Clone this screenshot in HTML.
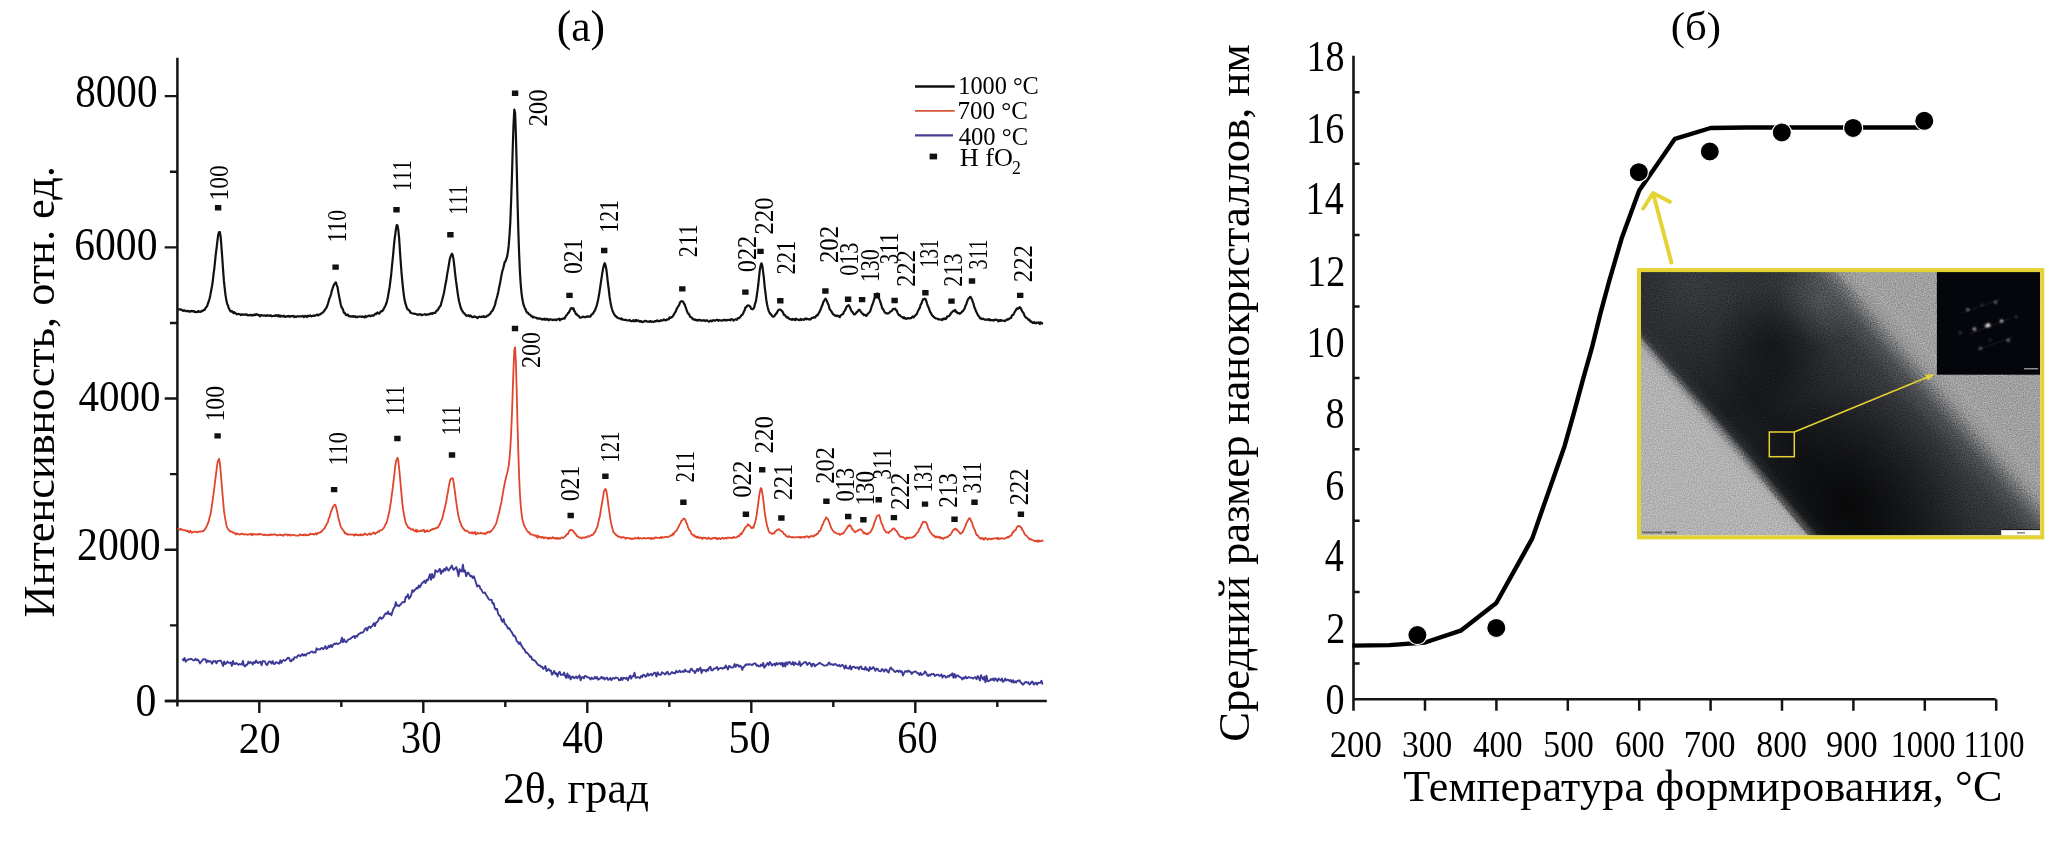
<!DOCTYPE html><html><head><meta charset="utf-8"><style>html,body{margin:0;padding:0;background:#fff;overflow:hidden;}svg{display:block;filter:blur(0.4px);}text{font-family:"Liberation Serif", serif;}</style></head><body>
<svg width="2067" height="845" viewBox="0 0 2067 845">
<rect width="2067" height="845" fill="#fff"/>
<path d="M177.4 57.8V706.5M165 701H1046.8" stroke="#151515" stroke-width="2.5" fill="none"/>
<path d="M164.7 701H177.4M164.7 549.78H177.4M164.7 398.56H177.4M164.7 247.34H177.4M164.7 96.12H177.4M169.9 625.39H177.4M169.9 474.17H177.4M169.9 322.95H177.4M169.9 171.73H177.4M259.3 701V713M423.3 701V713M587.3 701V713M751.3 701V713M915.3 701V713M341.3 701V707M505.3 701V707M669.3 701V707M833.3 701V707M997.3 701V707" stroke="#151515" stroke-width="2.4" fill="none"/>
<text transform="matrix(0.902,0,0,1,75.13,107.25)" font-size="45.64" textLength="91.29" fill="#000" >8000</text>
<text transform="matrix(0.9152,0,0,1,74.21,260.36)" font-size="45.49" textLength="90.99" fill="#000" >6000</text>
<text transform="matrix(0.9049,0,0,1,78.4,411.16)" font-size="45.35" textLength="90.69" fill="#000" >4000</text>
<text transform="matrix(0.9168,0,0,1,77.07,560.36)" font-size="45.49" textLength="90.99" fill="#000" >2000</text>
<text transform="matrix(0.915,0,0,1,135.61,716.25)" font-size="45.64" textLength="22.82" fill="#000" >0</text>
<text transform="matrix(0.9249,0,0,1,238.86,753.46)" font-size="45.35" textLength="45.35" fill="#000" >20</text>
<text transform="matrix(0.8912,0,0,1,400.85,753.45)" font-size="45.79" textLength="45.79" fill="#000" >30</text>
<text transform="matrix(0.9038,0,0,1,562.19,753.45)" font-size="45.79" textLength="45.79" fill="#000" >40</text>
<text transform="matrix(0.9296,0,0,1,728.45,753.46)" font-size="45.35" textLength="45.35" fill="#000" >50</text>
<text transform="matrix(0.8571,0,0,1,897.37,753.44)" font-size="46.98" textLength="46.98" fill="#000" >60</text>
<text transform="matrix(0.9832,0,0,1,502.88,803.1)" font-size="44.5" textLength="148.71" fill="#000">2θ, град</text>
<text transform="matrix(0.9918,0,0,1,556.68,41.3)" font-size="44" textLength="48.83" fill="#000">(a)</text>
<text transform="matrix(0,-1.0084,1,0,53.6,617.38)" font-size="44" textLength="447.54" fill="#000">Интенсивность, отн. ед.</text>
<path d="M177.5 309.2L178.3 309.5L179.1 309.4L179.9 309.3L180.7 309.7L181.5 309.6L182.3 310.2L183.1 311.0L183.9 310.3L184.7 310.4L185.5 311.1L186.3 311.1L187.1 311.2L187.9 310.8L188.7 311.4L189.5 311.8L190.3 311.0L191.1 311.5L191.9 310.9L192.7 311.3L193.5 311.1L194.3 311.9L195.1 311.5L195.9 312.2L196.7 312.2L197.5 312.0L198.3 310.9L199.1 311.7L199.9 311.9L200.7 311.8L201.5 310.9L202.3 311.1L203.1 310.5L203.9 309.9L204.7 309.9L205.5 308.1L206.3 307.2L207.1 306.1L207.9 303.6L208.7 301.5L209.5 298.8L210.3 295.4L211.1 290.8L211.9 286.7L212.7 281.8L213.5 274.3L214.3 268.6L215.1 261.0L215.9 253.2L216.7 247.2L217.5 240.2L218.3 234.3L219.1 232.0L219.9 232.1L220.7 237.2L221.5 247.3L222.3 258.5L223.1 270.2L223.9 280.7L224.7 288.1L225.5 295.1L226.3 299.8L227.1 303.7L227.9 305.7L228.7 307.9L229.5 309.4L230.3 310.9L231.1 311.7L231.9 311.2L232.7 311.9L233.5 313.0L234.3 312.1L235.1 313.1L235.9 313.5L236.7 314.3L237.5 314.2L238.3 313.9L239.1 314.0L239.9 314.2L240.7 315.1L241.5 314.3L242.3 314.4L243.1 314.8L243.9 314.6L244.7 314.7L245.5 314.3L246.3 314.8L247.1 314.7L247.9 315.4L248.7 315.2L249.5 314.9L250.3 315.3L251.1 314.8L251.9 315.5L252.7 315.0L253.5 315.3L254.3 314.4L255.1 315.2L255.9 314.3L256.7 314.2L257.5 315.0L258.3 314.8L259.1 315.3L259.9 316.3L260.7 315.0L261.5 315.1L262.3 315.5L263.1 315.7L263.9 315.4L264.7 315.4L265.5 315.9L266.3 315.8L267.1 315.2L267.9 315.6L268.7 315.7L269.5 315.3L270.3 315.9L271.1 315.4L271.9 316.3L272.7 316.0L273.5 315.9L274.3 315.7L275.1 315.9L275.9 315.1L276.7 315.5L277.5 316.2L278.3 315.1L279.1 316.5L279.9 315.3L280.7 316.5L281.5 315.8L282.3 316.5L283.1 316.3L283.9 315.6L284.7 316.8L285.5 316.9L286.3 316.3L287.1 316.2L287.9 316.3L288.7 315.9L289.5 316.9L290.3 316.2L291.1 316.4L291.9 316.1L292.7 316.2L293.5 315.9L294.3 317.0L295.1 316.4L295.9 316.9L296.7 316.5L297.5 316.2L298.3 316.4L299.1 316.2L299.9 316.5L300.7 316.3L301.5 316.4L302.3 315.9L303.1 316.1L303.9 317.2L304.7 316.1L305.5 315.9L306.3 316.5L307.1 317.0L307.9 315.6L308.7 316.2L309.5 315.9L310.3 315.4L311.1 316.4L311.9 316.0L312.7 316.0L313.5 315.5L314.3 316.0L315.1 315.4L315.9 315.4L316.7 314.9L317.5 314.6L318.3 315.5L319.1 314.5L319.9 314.5L320.7 314.0L321.5 313.3L322.3 312.7L323.1 312.5L323.9 311.2L324.7 310.2L325.5 309.0L326.3 308.0L327.1 306.0L327.9 303.8L328.7 301.1L329.5 298.3L330.3 296.6L331.1 293.8L331.9 290.5L332.7 288.1L333.5 285.8L334.3 284.1L335.1 283.1L335.9 282.4L336.7 285.1L337.5 287.0L338.3 292.0L339.1 296.1L339.9 300.3L340.7 304.3L341.5 307.1L342.3 308.3L343.1 310.0L343.9 312.6L344.7 312.9L345.5 314.2L346.3 315.2L347.1 314.6L347.9 314.7L348.7 316.1L349.5 316.2L350.3 316.3L351.1 316.6L351.9 316.3L352.7 316.1L353.5 316.8L354.3 316.4L355.1 316.2L355.9 317.2L356.7 316.9L357.5 317.1L358.3 316.5L359.1 316.6L359.9 316.5L360.7 316.5L361.5 316.9L362.3 316.4L363.1 316.9L363.9 316.8L364.7 317.5L365.5 315.9L366.3 316.9L367.1 316.3L367.9 316.3L368.7 315.5L369.5 315.8L370.3 316.2L371.1 315.7L371.9 315.6L372.7 315.3L373.5 315.7L374.3 315.0L375.1 313.8L375.9 314.2L376.7 313.3L377.5 312.4L378.3 313.3L379.1 313.7L379.9 312.7L380.7 311.6L381.5 311.0L382.3 311.2L383.1 309.8L383.9 308.6L384.7 307.1L385.5 305.4L386.3 303.5L387.1 300.6L387.9 297.0L388.7 292.2L389.5 287.9L390.3 281.5L391.1 275.5L391.9 266.9L392.7 259.2L393.5 250.7L394.3 241.7L395.1 235.5L395.9 229.4L396.7 225.0L397.5 225.4L398.3 230.0L399.1 237.8L399.9 250.2L400.7 261.6L401.5 272.3L402.3 281.1L403.1 289.1L403.9 295.3L404.7 300.6L405.5 303.7L406.3 306.1L407.1 308.7L407.9 309.2L408.7 310.3L409.5 310.5L410.3 312.6L411.1 312.8L411.9 313.2L412.7 313.5L413.5 313.5L414.3 313.8L415.1 313.8L415.9 314.0L416.7 314.2L417.5 315.0L418.3 314.6L419.1 314.4L419.9 314.2L420.7 314.3L421.5 315.3L422.3 314.9L423.1 314.7L423.9 314.5L424.7 314.2L425.5 314.6L426.3 315.0L427.1 314.4L427.9 314.3L428.7 314.3L429.5 314.3L430.3 313.4L431.1 313.8L431.9 313.3L432.7 313.8L433.5 312.8L434.3 313.0L435.1 313.0L435.9 311.6L436.7 310.8L437.5 310.3L438.3 309.2L439.1 307.5L439.9 306.6L440.7 305.5L441.5 302.2L442.3 299.6L443.1 296.2L443.9 293.3L444.7 288.6L445.5 284.3L446.3 280.6L447.1 274.6L447.9 270.4L448.7 265.7L449.5 260.6L450.3 257.2L451.1 255.5L451.9 253.7L452.7 255.1L453.5 259.1L454.3 265.8L455.1 273.4L455.9 280.2L456.7 285.9L457.5 291.8L458.3 297.0L459.1 301.5L459.9 304.6L460.7 307.5L461.5 309.6L462.3 310.9L463.1 312.2L463.9 313.2L464.7 313.8L465.5 314.7L466.3 315.8L467.1 315.6L467.9 315.7L468.7 315.2L469.5 316.3L470.3 315.5L471.1 315.9L471.9 317.1L472.7 317.1L473.5 316.9L474.3 316.3L475.1 316.9L475.9 316.8L476.7 317.4L477.5 318.2L478.3 317.3L479.1 316.8L479.9 316.6L480.7 317.1L481.5 317.0L482.3 316.5L483.1 316.9L483.9 316.2L484.7 317.1L485.5 316.9L486.3 316.7L487.1 315.7L487.9 315.7L488.7 315.0L489.5 314.3L490.3 313.6L491.1 312.2L491.9 311.0L492.7 310.6L493.5 308.5L494.3 306.7L495.1 304.7L495.9 300.8L496.7 298.2L497.5 295.3L498.3 291.7L499.1 287.5L499.9 284.1L500.7 279.6L501.5 275.0L502.3 271.3L503.1 268.7L503.9 265.5L504.7 262.0L505.5 261.3L506.3 258.9L507.1 256.7L507.9 252.0L508.7 245.7L509.5 235.4L510.3 222.5L511.1 201.5L511.9 177.8L512.7 149.6L513.5 125.2L514.3 109.6L515.1 112.9L515.9 134.9L516.7 165.9L517.5 200.4L518.3 229.9L519.1 253.2L519.9 271.4L520.7 284.2L521.5 293.1L522.3 298.8L523.1 302.7L523.9 305.9L524.7 307.7L525.5 309.3L526.3 311.2L527.1 312.7L527.9 312.6L528.7 314.0L529.5 314.4L530.3 314.9L531.1 316.2L531.9 316.0L532.7 317.3L533.5 316.7L534.3 317.5L535.1 317.5L535.9 317.5L536.7 318.3L537.5 318.2L538.3 318.7L539.1 318.6L539.9 318.3L540.7 318.9L541.5 319.1L542.3 319.6L543.1 318.9L543.9 319.4L544.7 318.7L545.5 319.8L546.3 319.1L547.1 318.9L547.9 319.7L548.7 320.3L549.5 319.2L550.3 319.4L551.1 319.6L551.9 319.5L552.7 320.2L553.5 319.6L554.3 319.6L555.1 320.1L555.9 319.5L556.7 320.0L557.5 319.3L558.3 319.1L559.1 318.7L559.9 320.3L560.7 319.2L561.5 319.2L562.3 318.9L563.1 318.7L563.9 318.2L564.7 318.6L565.5 316.6L566.3 315.5L567.1 314.7L567.9 313.3L568.7 312.8L569.5 311.4L570.3 309.3L571.1 308.1L571.9 308.1L572.7 309.2L573.5 308.3L574.3 311.1L575.1 311.8L575.9 314.1L576.7 314.2L577.5 315.5L578.3 315.6L579.1 316.3L579.9 317.7L580.7 317.7L581.5 317.2L582.3 317.0L583.1 316.6L583.9 317.2L584.7 317.2L585.5 317.1L586.3 316.9L587.1 316.3L587.9 316.6L588.7 316.4L589.5 316.7L590.3 316.6L591.1 315.2L591.9 314.3L592.7 313.9L593.5 312.7L594.3 311.4L595.1 310.1L595.9 307.6L596.7 305.8L597.5 302.4L598.3 298.8L599.1 294.3L599.9 289.1L600.7 283.7L601.5 278.4L602.3 272.9L603.1 268.6L603.9 265.2L604.7 263.2L605.5 265.2L606.3 269.0L607.1 275.7L607.9 283.0L608.7 289.0L609.5 296.2L610.3 301.4L611.1 305.5L611.9 308.7L612.7 311.3L613.5 312.9L614.3 314.6L615.1 315.5L615.9 316.6L616.7 316.6L617.5 317.8L618.3 318.1L619.1 318.3L619.9 318.5L620.7 319.2L621.5 318.4L622.3 319.6L623.1 319.6L623.9 319.8L624.7 320.0L625.5 319.7L626.3 320.0L627.1 320.5L627.9 320.5L628.7 320.5L629.5 319.8L630.3 320.8L631.1 321.1L631.9 321.1L632.7 320.9L633.5 320.1L634.3 321.3L635.1 320.9L635.9 319.8L636.7 321.2L637.5 320.4L638.3 320.5L639.1 320.9L639.9 321.8L640.7 321.1L641.5 321.4L642.3 322.1L643.1 322.0L643.9 321.3L644.7 321.3L645.5 320.8L646.3 321.1L647.1 321.6L647.9 321.6L648.7 321.5L649.5 321.9L650.3 321.1L651.1 321.4L651.9 321.8L652.7 321.7L653.5 321.8L654.3 321.5L655.1 321.1L655.9 321.4L656.7 320.7L657.5 320.4L658.3 321.3L659.1 321.0L659.9 321.1L660.7 320.1L661.5 320.6L662.3 320.4L663.1 320.2L663.9 319.4L664.7 320.1L665.5 320.5L666.3 320.1L667.1 319.4L667.9 319.3L668.7 319.3L669.5 317.3L670.3 318.0L671.1 317.6L671.9 317.0L672.7 316.5L673.5 315.2L674.3 313.7L675.1 312.3L675.9 311.1L676.7 308.9L677.5 307.5L678.3 306.2L679.1 305.1L679.9 302.7L680.7 301.6L681.5 301.1L682.3 301.4L683.1 301.5L683.9 303.6L684.7 304.4L685.5 306.9L686.3 309.0L687.1 311.5L687.9 313.4L688.7 313.8L689.5 315.3L690.3 316.9L691.1 317.3L691.9 317.6L692.7 319.2L693.5 319.4L694.3 319.7L695.1 319.4L695.9 320.3L696.7 319.9L697.5 320.6L698.3 319.8L699.1 319.9L699.9 320.4L700.7 320.1L701.5 320.7L702.3 320.6L703.1 320.1L703.9 320.6L704.7 320.4L705.5 321.0L706.3 320.3L707.1 320.4L707.9 321.1L708.7 321.6L709.5 321.5L710.3 320.6L711.1 320.7L711.9 321.3L712.7 320.5L713.5 320.1L714.3 320.6L715.1 320.7L715.9 320.1L716.7 319.8L717.5 319.8L718.3 320.8L719.1 320.1L719.9 320.3L720.7 320.5L721.5 320.6L722.3 320.2L723.1 320.5L723.9 319.9L724.7 320.1L725.5 319.8L726.3 320.7L727.1 320.1L727.9 319.8L728.7 319.9L729.5 319.9L730.3 320.3L731.1 319.2L731.9 319.3L732.7 319.5L733.5 320.7L734.3 319.9L735.1 319.3L735.9 319.5L736.7 319.8L737.5 318.5L738.3 318.0L739.1 318.2L739.9 317.3L740.7 316.5L741.5 315.0L742.3 314.9L743.1 313.5L743.9 311.5L744.7 310.1L745.5 307.3L746.3 307.2L747.1 305.8L747.9 305.4L748.7 305.6L749.5 306.0L750.3 306.6L751.1 308.7L751.9 309.0L752.7 309.3L753.5 308.5L754.3 307.1L755.1 303.6L755.9 301.4L756.7 296.2L757.5 290.7L758.3 284.5L759.1 276.6L759.9 269.4L760.7 265.1L761.5 263.3L762.3 265.7L763.1 271.6L763.9 278.1L764.7 286.8L765.5 293.1L766.3 299.9L767.1 304.5L767.9 308.1L768.7 310.9L769.5 312.6L770.3 313.9L771.1 314.3L771.9 315.6L772.7 316.7L773.5 316.7L774.3 316.1L775.1 315.2L775.9 313.6L776.7 313.4L777.5 311.4L778.3 310.3L779.1 309.5L779.9 309.6L780.7 309.8L781.5 310.7L782.3 311.3L783.1 312.6L783.9 314.9L784.7 314.9L785.5 315.8L786.3 316.9L787.1 317.7L787.9 317.4L788.7 318.2L789.5 319.1L790.3 319.0L791.1 319.2L791.9 319.9L792.7 319.0L793.5 319.5L794.3 319.2L795.1 320.2L795.9 318.7L796.7 319.3L797.5 319.4L798.3 319.9L799.1 319.9L799.9 320.2L800.7 318.9L801.5 319.9L802.3 319.5L803.1 319.3L803.9 319.8L804.7 319.1L805.5 318.5L806.3 319.3L807.1 318.7L807.9 319.0L808.7 319.4L809.5 319.2L810.3 319.6L811.1 318.7L811.9 317.9L812.7 318.0L813.5 317.6L814.3 317.1L815.1 317.5L815.9 316.4L816.7 315.1L817.5 315.4L818.3 313.9L819.1 312.7L819.9 311.0L820.7 309.3L821.5 307.0L822.3 305.3L823.1 302.8L823.9 301.0L824.7 299.8L825.5 298.7L826.3 300.0L827.1 301.5L827.9 303.8L828.7 305.3L829.5 308.7L830.3 309.9L831.1 311.0L831.9 312.1L832.7 313.7L833.5 314.6L834.3 314.8L835.1 315.6L835.9 315.5L836.7 316.1L837.5 315.6L838.3 316.0L839.1 316.5L839.9 317.1L840.7 315.2L841.5 315.0L842.3 314.2L843.1 314.0L843.9 311.9L844.7 310.8L845.5 309.4L846.3 307.4L847.1 306.1L847.9 305.6L848.7 305.1L849.5 306.4L850.3 308.3L851.1 310.2L851.9 311.6L852.7 312.2L853.5 313.7L854.3 314.5L855.1 314.2L855.9 313.3L856.7 312.1L857.5 311.7L858.3 310.3L859.1 309.7L859.9 310.1L860.7 311.9L861.5 312.4L862.3 313.8L863.1 313.9L863.9 315.1L864.7 314.8L865.5 315.0L866.3 316.0L867.1 314.9L867.9 313.7L868.7 313.1L869.5 312.1L870.3 311.0L871.1 308.5L871.9 305.8L872.7 304.0L873.5 301.5L874.3 298.9L875.1 297.0L875.9 294.7L876.7 294.0L877.5 293.4L878.3 295.8L879.1 298.6L879.9 300.7L880.7 303.2L881.5 305.6L882.3 308.5L883.1 309.0L883.9 310.8L884.7 312.2L885.5 313.1L886.3 313.1L887.1 313.6L887.9 313.3L888.7 313.2L889.5 312.6L890.3 311.5L891.1 311.2L891.9 310.8L892.7 309.2L893.5 308.9L894.3 309.2L895.1 308.7L895.9 310.0L896.7 310.5L897.5 312.6L898.3 314.3L899.1 315.2L899.9 315.1L900.7 316.3L901.5 316.6L902.3 317.1L903.1 318.1L903.9 317.1L904.7 318.4L905.5 318.1L906.3 318.9L907.1 318.4L907.9 318.0L908.7 318.4L909.5 318.5L910.3 318.1L911.1 318.1L911.9 317.4L912.7 316.4L913.5 317.3L914.3 316.6L915.1 315.7L915.9 314.8L916.7 314.1L917.5 312.1L918.3 310.4L919.1 308.9L919.9 307.6L920.7 304.4L921.5 303.5L922.3 300.9L923.1 299.2L923.9 299.4L924.7 298.7L925.5 299.0L926.3 301.1L927.1 303.8L927.9 306.2L928.7 307.7L929.5 310.2L930.3 312.3L931.1 313.3L931.9 315.1L932.7 316.0L933.5 316.6L934.3 317.3L935.1 318.1L935.9 318.5L936.7 318.5L937.5 318.7L938.3 319.5L939.1 319.2L939.9 319.5L940.7 319.7L941.5 319.4L942.3 320.1L943.1 318.6L943.9 319.1L944.7 318.4L945.5 319.1L946.3 318.7L947.1 316.5L947.9 316.3L948.7 316.3L949.5 315.5L950.3 314.5L951.1 313.0L951.9 312.3L952.7 311.5L953.5 310.7L954.3 311.1L955.1 309.9L955.9 311.8L956.7 311.7L957.5 313.2L958.3 313.2L959.1 313.2L959.9 313.8L960.7 313.0L961.5 312.4L962.3 311.3L963.1 310.9L963.9 309.7L964.7 308.2L965.5 305.7L966.3 304.2L967.1 301.6L967.9 299.6L968.7 298.3L969.5 297.6L970.3 296.8L971.1 297.7L971.9 299.4L972.7 301.7L973.5 303.7L974.3 307.0L975.1 308.7L975.9 311.2L976.7 312.4L977.5 314.4L978.3 315.7L979.1 316.3L979.9 318.2L980.7 318.0L981.5 319.1L982.3 319.1L983.1 318.7L983.9 319.1L984.7 319.6L985.5 319.6L986.3 319.8L987.1 319.7L987.9 319.2L988.7 320.0L989.5 319.2L990.3 320.4L991.1 320.0L991.9 320.0L992.7 320.3L993.5 320.6L994.3 319.8L995.1 319.7L995.9 320.1L996.7 319.7L997.5 320.2L998.3 321.3L999.1 320.2L999.9 320.9L1000.7 320.0L1001.5 320.8L1002.3 320.5L1003.1 320.5L1003.9 320.7L1004.7 321.2L1005.5 320.3L1006.3 320.1L1007.1 319.3L1007.9 319.7L1008.7 318.9L1009.5 318.9L1010.3 317.9L1011.1 317.9L1011.9 315.4L1012.7 315.1L1013.5 314.5L1014.3 312.8L1015.1 311.3L1015.9 310.2L1016.7 308.6L1017.5 308.3L1018.3 308.7L1019.1 307.9L1019.9 307.2L1020.7 308.2L1021.5 309.6L1022.3 311.7L1023.1 312.3L1023.9 313.9L1024.7 316.0L1025.5 317.2L1026.3 317.7L1027.1 318.4L1027.9 318.9L1028.7 320.0L1029.5 319.8L1030.3 321.6L1031.1 321.3L1031.9 322.1L1032.7 323.0L1033.5 322.9L1034.3 322.0L1035.1 323.1L1035.9 323.3L1036.7 322.6L1037.5 322.6L1038.3 323.1L1039.1 322.5L1039.9 324.0L1040.7 322.3L1041.5 323.0L1042.3 323.5L1043.1 323.6" stroke="#111" stroke-width="2.2" fill="none" stroke-linejoin="round"/>
<path d="M177.5 528.9L178.3 529.1L179.1 529.1L179.9 529.9L180.7 528.6L181.5 529.7L182.3 529.6L183.1 530.1L183.9 530.3L184.7 530.0L185.5 530.3L186.3 531.1L187.1 531.0L187.9 530.7L188.7 532.1L189.5 532.3L190.3 530.7L191.1 531.7L191.9 532.8L192.7 532.1L193.5 531.9L194.3 531.8L195.1 531.7L195.9 531.9L196.7 531.8L197.5 532.4L198.3 531.8L199.1 531.8L199.9 531.3L200.7 531.7L201.5 531.1L202.3 531.2L203.1 531.4L203.9 530.4L204.7 529.6L205.5 528.5L206.3 527.0L207.1 525.4L207.9 523.3L208.7 521.4L209.5 517.7L210.3 515.3L211.1 510.6L211.9 505.5L212.7 500.2L213.5 494.2L214.3 488.1L215.1 481.0L215.9 475.3L216.7 468.4L217.5 462.8L218.3 460.4L219.1 458.9L219.9 463.4L220.7 471.8L221.5 481.8L222.3 491.3L223.1 501.0L223.9 510.1L224.7 515.7L225.5 520.4L226.3 524.4L227.1 527.6L227.9 528.9L228.7 529.6L229.5 530.7L230.3 531.5L231.1 531.5L231.9 531.7L232.7 532.6L233.5 532.5L234.3 533.1L235.1 533.4L235.9 534.6L236.7 533.3L237.5 533.8L238.3 533.9L239.1 534.3L239.9 534.6L240.7 534.0L241.5 533.9L242.3 533.6L243.1 534.0L243.9 534.7L244.7 534.5L245.5 534.0L246.3 534.4L247.1 534.6L247.9 534.8L248.7 534.3L249.5 534.5L250.3 533.8L251.1 534.1L251.9 535.3L252.7 533.6L253.5 534.4L254.3 534.7L255.1 534.4L255.9 534.2L256.7 534.5L257.5 534.5L258.3 534.5L259.1 533.7L259.9 534.4L260.7 534.1L261.5 534.3L262.3 534.7L263.1 534.9L263.9 535.0L264.7 534.4L265.5 535.1L266.3 535.2L267.1 535.2L267.9 535.4L268.7 534.7L269.5 534.7L270.3 535.2L271.1 534.2L271.9 534.9L272.7 534.6L273.5 534.7L274.3 534.1L275.1 534.5L275.9 534.9L276.7 535.3L277.5 535.4L278.3 534.9L279.1 534.9L279.9 534.6L280.7 535.1L281.5 534.9L282.3 535.3L283.1 535.8L283.9 535.0L284.7 534.3L285.5 534.6L286.3 534.4L287.1 534.5L287.9 535.6L288.7 535.1L289.5 534.4L290.3 535.3L291.1 535.6L291.9 534.9L292.7 534.8L293.5 534.9L294.3 535.2L295.1 535.3L295.9 535.6L296.7 535.6L297.5 535.6L298.3 535.6L299.1 535.3L299.9 534.3L300.7 534.9L301.5 535.1L302.3 534.8L303.1 535.3L303.9 534.7L304.7 534.4L305.5 535.5L306.3 535.1L307.1 534.8L307.9 535.1L308.7 535.1L309.5 534.7L310.3 533.4L311.1 534.1L311.9 534.2L312.7 533.8L313.5 534.3L314.3 534.6L315.1 533.7L315.9 533.3L316.7 534.5L317.5 533.2L318.3 532.6L319.1 532.9L319.9 532.7L320.7 531.7L321.5 531.8L322.3 530.6L323.1 529.6L323.9 529.1L324.7 528.2L325.5 526.2L326.3 525.1L327.1 523.1L327.9 522.4L328.7 518.5L329.5 517.1L330.3 513.9L331.1 511.4L331.9 509.5L332.7 507.5L333.5 506.2L334.3 505.0L335.1 504.7L335.9 506.4L336.7 509.8L337.5 513.4L338.3 517.5L339.1 520.5L339.9 523.8L340.7 526.6L341.5 528.1L342.3 529.0L343.1 530.3L343.9 531.2L344.7 533.2L345.5 532.6L346.3 534.0L347.1 534.0L347.9 534.7L348.7 534.6L349.5 534.3L350.3 534.4L351.1 534.6L351.9 534.7L352.7 534.5L353.5 534.8L354.3 535.6L355.1 534.1L355.9 535.0L356.7 534.5L357.5 535.1L358.3 535.4L359.1 535.0L359.9 535.3L360.7 534.2L361.5 535.4L362.3 534.6L363.1 535.0L363.9 534.8L364.7 533.4L365.5 534.2L366.3 534.5L367.1 535.0L367.9 534.3L368.7 534.2L369.5 533.3L370.3 534.5L371.1 534.5L371.9 533.5L372.7 533.3L373.5 532.4L374.3 533.4L375.1 534.0L375.9 532.8L376.7 532.8L377.5 532.2L378.3 531.2L379.1 531.9L379.9 530.4L380.7 530.4L381.5 530.0L382.3 529.7L383.1 528.7L383.9 527.8L384.7 526.1L385.5 524.4L386.3 523.3L387.1 520.7L387.9 517.7L388.7 514.4L389.5 510.8L390.3 505.5L391.1 500.3L391.9 494.1L392.7 488.3L393.5 481.4L394.3 475.1L395.1 467.0L395.9 462.0L396.7 459.3L397.5 457.7L398.3 460.6L399.1 468.2L399.9 476.2L400.7 485.3L401.5 494.2L402.3 502.8L403.1 509.4L403.9 514.0L404.7 518.2L405.5 522.0L406.3 524.3L407.1 525.4L407.9 527.2L408.7 528.0L409.5 527.7L410.3 528.8L411.1 529.6L411.9 529.5L412.7 529.0L413.5 530.1L414.3 530.7L415.1 531.2L415.9 529.6L416.7 531.9L417.5 530.3L418.3 531.3L419.1 531.4L419.9 531.3L420.7 530.9L421.5 530.3L422.3 531.1L423.1 530.5L423.9 529.7L424.7 532.1L425.5 531.1L426.3 531.6L427.1 530.3L427.9 531.3L428.7 531.3L429.5 531.1L430.3 530.3L431.1 529.6L431.9 529.9L432.7 528.8L433.5 528.7L434.3 529.2L435.1 528.3L435.9 528.2L436.7 527.7L437.5 527.9L438.3 526.7L439.1 525.0L439.9 524.3L440.7 521.8L441.5 520.1L442.3 518.4L443.1 514.8L443.9 512.1L444.7 508.2L445.5 505.0L446.3 501.5L447.1 496.1L447.9 492.0L448.7 487.1L449.5 483.0L450.3 479.7L451.1 478.6L451.9 478.2L452.7 478.4L453.5 481.4L454.3 487.3L455.1 492.9L455.9 499.6L456.7 505.3L457.5 510.5L458.3 515.2L459.1 518.5L459.9 521.6L460.7 523.4L461.5 525.9L462.3 526.9L463.1 528.6L463.9 529.0L464.7 530.2L465.5 530.9L466.3 530.5L467.1 531.1L467.9 531.3L468.7 532.3L469.5 533.0L470.3 532.8L471.1 532.4L471.9 533.4L472.7 532.2L473.5 533.6L474.3 532.7L475.1 531.9L475.9 534.4L476.7 534.0L477.5 532.8L478.3 533.4L479.1 533.3L479.9 533.4L480.7 532.7L481.5 533.1L482.3 533.6L483.1 533.4L483.9 533.8L484.7 533.2L485.5 534.2L486.3 532.7L487.1 532.9L487.9 531.8L488.7 531.8L489.5 532.6L490.3 531.2L491.1 531.3L491.9 530.4L492.7 529.1L493.5 528.4L494.3 527.0L495.1 525.4L495.9 524.1L496.7 521.8L497.5 518.6L498.3 515.4L499.1 512.6L499.9 508.7L500.7 505.2L501.5 501.7L502.3 496.6L503.1 491.9L503.9 487.6L504.7 483.3L505.5 479.7L506.3 476.3L507.1 473.4L507.9 469.9L508.7 465.9L509.5 458.6L510.3 448.6L511.1 433.6L511.9 415.6L512.7 391.9L513.5 368.7L514.3 350.5L515.1 347.3L515.9 362.1L516.7 391.3L517.5 424.3L518.3 451.5L519.1 475.9L519.9 493.4L520.7 504.9L521.5 513.2L522.3 518.9L523.1 521.8L523.9 525.0L524.7 526.4L525.5 528.1L526.3 529.4L527.1 530.7L527.9 531.7L528.7 532.5L529.5 532.3L530.3 534.4L531.1 534.5L531.9 534.7L532.7 534.6L533.5 535.1L534.3 535.6L535.1 535.9L535.9 535.1L536.7 536.5L537.5 537.7L538.3 535.7L539.1 537.2L539.9 537.0L540.7 537.0L541.5 537.8L542.3 536.7L543.1 537.5L543.9 538.2L544.7 537.5L545.5 537.5L546.3 537.9L547.1 537.7L547.9 538.7L548.7 537.7L549.5 538.6L550.3 537.6L551.1 538.5L551.9 538.2L552.7 537.1L553.5 538.3L554.3 537.8L555.1 538.1L555.9 539.0L556.7 537.8L557.5 537.8L558.3 538.9L559.1 538.2L559.9 538.8L560.7 538.2L561.5 537.5L562.3 537.7L563.1 538.0L563.9 537.5L564.7 536.6L565.5 536.0L566.3 535.2L567.1 534.0L567.9 534.1L568.7 532.1L569.5 530.5L570.3 529.9L571.1 530.1L571.9 530.2L572.7 530.5L573.5 531.3L574.3 532.8L575.1 533.1L575.9 534.3L576.7 536.0L577.5 536.1L578.3 536.9L579.1 537.7L579.9 537.6L580.7 537.5L581.5 538.5L582.3 537.9L583.1 537.4L583.9 537.8L584.7 537.6L585.5 537.0L586.3 537.3L587.1 537.0L587.9 536.0L588.7 536.6L589.5 536.3L590.3 535.9L591.1 535.0L591.9 535.1L592.7 534.7L593.5 534.0L594.3 532.5L595.1 532.1L595.9 529.7L596.7 528.2L597.5 526.5L598.3 522.6L599.1 519.3L599.9 516.0L600.7 510.8L601.5 506.1L602.3 501.3L603.1 497.0L603.9 491.6L604.7 489.7L605.5 488.9L606.3 490.7L607.1 495.3L607.9 501.1L608.7 507.9L609.5 513.2L610.3 518.9L611.1 523.4L611.9 526.4L612.7 529.5L613.5 532.2L614.3 533.1L615.1 533.8L615.9 534.9L616.7 535.1L617.5 536.1L618.3 536.8L619.1 536.3L619.9 536.9L620.7 537.7L621.5 537.1L622.3 537.6L623.1 537.2L623.9 537.4L624.7 537.6L625.5 538.9L626.3 537.8L627.1 537.8L627.9 537.9L628.7 538.1L629.5 538.5L630.3 538.4L631.1 539.2L631.9 538.4L632.7 539.0L633.5 538.5L634.3 538.7L635.1 537.8L635.9 538.4L636.7 538.4L637.5 538.3L638.3 537.5L639.1 538.8L639.9 538.3L640.7 538.2L641.5 538.3L642.3 538.3L643.1 538.6L643.9 537.8L644.7 538.0L645.5 538.5L646.3 538.5L647.1 538.2L647.9 538.1L648.7 538.0L649.5 538.3L650.3 538.8L651.1 537.8L651.9 539.0L652.7 538.6L653.5 538.0L654.3 538.6L655.1 537.5L655.9 537.4L656.7 537.6L657.5 537.9L658.3 537.9L659.1 537.8L659.9 538.0L660.7 537.0L661.5 538.1L662.3 537.2L663.1 537.4L663.9 537.5L664.7 537.0L665.5 536.8L666.3 536.9L667.1 537.2L667.9 537.2L668.7 537.0L669.5 536.0L670.3 535.8L671.1 535.4L671.9 535.5L672.7 533.8L673.5 534.6L674.3 532.9L675.1 531.8L675.9 531.2L676.7 530.3L677.5 528.6L678.3 527.4L679.1 525.4L679.9 524.2L680.7 522.7L681.5 520.7L682.3 520.3L683.1 519.0L683.9 518.7L684.7 518.8L685.5 520.4L686.3 522.7L687.1 523.9L687.9 526.8L688.7 528.7L689.5 530.4L690.3 530.8L691.1 533.1L691.9 534.5L692.7 534.7L693.5 535.7L694.3 535.1L695.1 536.9L695.9 536.6L696.7 537.5L697.5 536.5L698.3 537.8L699.1 537.5L699.9 538.1L700.7 537.4L701.5 537.6L702.3 539.0L703.1 537.6L703.9 537.7L704.7 538.0L705.5 537.7L706.3 538.7L707.1 539.0L707.9 537.9L708.7 537.5L709.5 538.8L710.3 538.8L711.1 538.7L711.9 538.8L712.7 537.9L713.5 538.2L714.3 537.7L715.1 537.7L715.9 538.8L716.7 538.0L717.5 539.3L718.3 538.4L719.1 538.0L719.9 538.7L720.7 539.1L721.5 538.5L722.3 537.7L723.1 538.4L723.9 538.8L724.7 537.9L725.5 537.8L726.3 538.5L727.1 538.1L727.9 537.5L728.7 537.8L729.5 537.5L730.3 538.0L731.1 537.8L731.9 538.2L732.7 537.9L733.5 536.8L734.3 537.6L735.1 537.7L735.9 537.3L736.7 537.4L737.5 536.4L738.3 535.9L739.1 536.3L739.9 534.8L740.7 533.6L741.5 534.2L742.3 532.4L743.1 531.5L743.9 529.8L744.7 528.5L745.5 527.3L746.3 526.6L747.1 526.0L747.9 524.2L748.7 525.5L749.5 525.3L750.3 526.3L751.1 527.9L751.9 528.0L752.7 527.2L753.5 527.8L754.3 524.9L755.1 522.6L755.9 518.9L756.7 514.8L757.5 508.4L758.3 503.0L759.1 496.2L759.9 492.0L760.7 488.2L761.5 488.5L762.3 493.1L763.1 498.3L763.9 505.0L764.7 512.5L765.5 517.5L766.3 521.7L767.1 526.1L767.9 528.0L768.7 531.1L769.5 532.5L770.3 532.6L771.1 533.2L771.9 533.8L772.7 533.8L773.5 533.1L774.3 533.3L775.1 531.4L775.9 531.2L776.7 530.3L777.5 529.7L778.3 529.6L779.1 529.1L779.9 530.4L780.7 530.7L781.5 531.2L782.3 531.7L783.1 532.6L783.9 534.0L784.7 534.1L785.5 535.1L786.3 536.1L787.1 536.4L787.9 537.0L788.7 536.3L789.5 536.2L790.3 537.2L791.1 537.0L791.9 537.4L792.7 537.0L793.5 537.5L794.3 537.4L795.1 537.4L795.9 537.3L796.7 537.2L797.5 537.2L798.3 537.2L799.1 537.5L799.9 536.8L800.7 537.8L801.5 537.0L802.3 537.4L803.1 536.9L803.9 536.8L804.7 537.8L805.5 536.7L806.3 536.2L807.1 536.4L807.9 536.6L808.7 537.6L809.5 536.6L810.3 536.8L811.1 535.8L811.9 536.3L812.7 536.3L813.5 536.6L814.3 535.2L815.1 535.5L815.9 535.0L816.7 533.9L817.5 533.8L818.3 532.9L819.1 531.0L819.9 531.1L820.7 529.6L821.5 527.4L822.3 525.0L823.1 524.2L823.9 521.6L824.7 520.1L825.5 518.9L826.3 517.4L827.1 518.3L827.9 519.1L828.7 521.0L829.5 523.1L830.3 525.3L831.1 527.7L831.9 529.0L832.7 530.2L833.5 531.3L834.3 532.4L835.1 532.5L835.9 533.1L836.7 533.6L837.5 533.6L838.3 533.8L839.1 533.7L839.9 534.9L840.7 534.5L841.5 533.9L842.3 533.3L843.1 533.8L843.9 532.3L844.7 531.2L845.5 530.2L846.3 528.9L847.1 528.1L847.9 526.2L848.7 526.3L849.5 524.8L850.3 526.1L851.1 526.3L851.9 528.9L852.7 529.2L853.5 530.4L854.3 531.6L855.1 532.2L855.9 531.3L856.7 531.4L857.5 530.5L858.3 530.5L859.1 529.8L859.9 529.3L860.7 529.3L861.5 530.1L862.3 530.8L863.1 532.3L863.9 533.5L864.7 532.6L865.5 533.8L866.3 533.9L867.1 534.3L867.9 533.5L868.7 533.5L869.5 532.5L870.3 532.4L871.1 531.0L871.9 529.5L872.7 528.0L873.5 525.6L874.3 522.7L875.1 521.2L875.9 518.7L876.7 516.4L877.5 515.5L878.3 515.3L879.1 515.0L879.9 517.0L880.7 520.5L881.5 523.1L882.3 524.6L883.1 526.7L883.9 528.9L884.7 530.5L885.5 531.1L886.3 532.5L887.1 532.3L887.9 532.3L888.7 533.0L889.5 531.7L890.3 531.2L891.1 530.7L891.9 529.9L892.7 528.7L893.5 528.5L894.3 528.3L895.1 530.0L895.9 530.5L896.7 530.9L897.5 532.6L898.3 534.0L899.1 534.9L899.9 536.4L900.7 536.9L901.5 536.6L902.3 537.2L903.1 537.0L903.9 537.9L904.7 538.1L905.5 539.4L906.3 538.3L907.1 537.4L907.9 538.0L908.7 538.2L909.5 537.5L910.3 537.6L911.1 537.6L911.9 537.7L912.7 537.2L913.5 536.4L914.3 536.7L915.1 535.5L915.9 534.7L916.7 533.4L917.5 532.5L918.3 531.9L919.1 529.3L919.9 528.4L920.7 527.0L921.5 524.8L922.3 523.5L923.1 521.7L923.9 522.0L924.7 521.8L925.5 522.1L926.3 522.5L927.1 524.5L927.9 527.3L928.7 529.4L929.5 530.5L930.3 532.4L931.1 532.9L931.9 534.1L932.7 535.0L933.5 535.9L934.3 535.5L935.1 537.0L935.9 537.5L936.7 536.5L937.5 536.6L938.3 537.6L939.1 537.3L939.9 536.7L940.7 538.3L941.5 538.1L942.3 537.8L943.1 539.0L943.9 538.2L944.7 537.7L945.5 537.9L946.3 537.2L947.1 537.0L947.9 537.0L948.7 535.9L949.5 535.2L950.3 535.1L951.1 533.6L951.9 532.2L952.7 530.8L953.5 529.7L954.3 529.4L955.1 528.5L955.9 529.7L956.7 529.2L957.5 530.5L958.3 531.0L959.1 532.3L959.9 533.3L960.7 533.9L961.5 532.8L962.3 532.5L963.1 531.2L963.9 529.5L964.7 527.6L965.5 526.1L966.3 523.3L967.1 522.1L967.9 520.3L968.7 518.8L969.5 518.2L970.3 518.5L971.1 521.4L971.9 521.9L972.7 525.4L973.5 527.3L974.3 529.1L975.1 530.7L975.9 533.4L976.7 535.1L977.5 535.1L978.3 536.3L979.1 537.6L979.9 537.8L980.7 538.9L981.5 538.0L982.3 538.7L983.1 538.1L983.9 539.7L984.7 538.5L985.5 537.8L986.3 538.8L987.1 538.8L987.9 539.7L988.7 538.6L989.5 538.7L990.3 539.0L991.1 539.4L991.9 538.6L992.7 539.0L993.5 538.7L994.3 538.2L995.1 538.3L995.9 538.4L996.7 538.0L997.5 539.0L998.3 537.8L999.1 539.0L999.9 538.9L1000.7 538.4L1001.5 538.1L1002.3 538.3L1003.1 538.6L1003.9 538.6L1004.7 538.3L1005.5 538.5L1006.3 537.6L1007.1 537.7L1007.9 536.6L1008.7 537.3L1009.5 536.5L1010.3 535.7L1011.1 535.7L1011.9 534.6L1012.7 532.1L1013.5 532.3L1014.3 530.4L1015.1 530.3L1015.9 529.7L1016.7 527.3L1017.5 526.6L1018.3 525.9L1019.1 526.0L1019.9 526.4L1020.7 527.5L1021.5 527.6L1022.3 530.2L1023.1 530.5L1023.9 532.4L1024.7 534.2L1025.5 535.2L1026.3 535.5L1027.1 536.5L1027.9 537.4L1028.7 538.2L1029.5 539.2L1030.3 538.6L1031.1 539.7L1031.9 540.0L1032.7 540.2L1033.5 540.4L1034.3 541.0L1035.1 540.7L1035.9 541.0L1036.7 541.0L1037.5 541.7L1038.3 540.1L1039.1 541.6L1039.9 541.0L1040.7 541.1L1041.5 540.9L1042.3 540.5L1043.1 541.3" stroke="#e0452b" stroke-width="1.8" fill="none" stroke-linejoin="round"/>
<path d="M182.4 658.8L183.5 660.4L184.6 657.9L185.7 661.7L186.8 660.3L187.9 659.7L189.0 659.2L190.1 659.2L191.2 658.8L192.3 659.6L193.4 660.4L194.5 660.3L195.6 658.8L196.7 660.3L197.8 659.6L198.9 661.1L200.0 663.4L201.1 661.8L202.2 660.7L203.3 659.1L204.4 659.4L205.5 659.2L206.6 662.4L207.7 660.5L208.8 661.7L209.9 660.9L211.0 661.9L212.1 663.7L213.2 661.1L214.3 661.6L215.4 661.1L216.5 663.3L217.6 660.9L218.7 660.9L219.8 660.6L220.9 660.7L222.0 663.2L223.1 666.0L224.2 661.5L225.3 664.1L226.4 663.3L227.5 661.6L228.6 662.8L229.7 662.9L230.8 662.4L231.9 665.9L233.0 661.0L234.1 664.0L235.2 664.0L236.3 662.9L237.4 663.9L238.5 664.9L239.6 663.9L240.7 664.3L241.8 664.6L242.9 661.0L244.0 665.6L245.1 666.5L246.2 664.8L247.3 664.8L248.4 661.6L249.5 663.2L250.6 662.2L251.7 662.5L252.8 664.4L253.9 662.1L255.0 662.9L256.1 660.5L257.2 662.7L258.3 663.0L259.4 661.9L260.5 661.8L261.6 665.2L262.7 661.1L263.8 661.2L264.9 661.5L266.0 664.1L267.1 665.2L268.2 662.8L269.3 661.4L270.4 661.7L271.5 663.6L272.6 661.0L273.7 664.0L274.8 663.9L275.9 662.1L277.0 662.8L278.1 662.8L279.2 663.7L280.3 660.2L281.4 662.9L282.5 660.7L283.6 660.0L284.7 660.8L285.8 660.1L286.9 658.8L288.0 657.7L289.1 658.2L290.2 661.0L291.3 661.3L292.4 659.3L293.5 659.7L294.6 657.1L295.7 657.4L296.8 657.5L297.9 655.4L299.0 655.2L300.1 656.3L301.2 655.4L302.3 654.1L303.4 655.6L304.5 654.4L305.6 655.7L306.7 654.0L307.8 653.2L308.9 653.4L310.0 652.6L311.1 651.6L312.2 651.5L313.3 652.6L314.4 652.1L315.5 652.6L316.6 648.3L317.7 649.6L318.8 649.2L319.9 649.6L321.0 648.4L322.1 647.9L323.2 649.2L324.3 648.1L325.4 646.0L326.5 648.9L327.6 648.1L328.7 645.7L329.8 647.2L330.9 644.9L332.0 647.0L333.1 644.9L334.2 643.8L335.3 644.0L336.4 643.2L337.5 644.1L338.6 643.7L339.7 643.2L340.8 642.1L341.9 637.7L343.0 642.2L344.1 639.3L345.2 641.6L346.3 642.3L347.4 640.7L348.5 639.4L349.6 639.1L350.7 638.6L351.8 637.5L352.9 636.9L354.0 635.9L355.1 638.0L356.2 635.8L357.3 636.4L358.4 634.1L359.5 633.8L360.6 632.7L361.7 632.8L362.8 632.5L363.9 631.0L365.0 629.0L366.1 628.1L367.2 630.5L368.3 627.2L369.4 626.5L370.5 628.0L371.6 626.7L372.7 625.2L373.8 623.2L374.9 626.1L376.0 622.7L377.1 622.2L378.2 620.5L379.3 618.0L380.4 617.3L381.5 618.9L382.6 618.1L383.7 616.5L384.8 614.4L385.9 613.2L387.0 614.0L388.1 611.6L389.2 614.1L390.3 613.6L391.4 615.2L392.5 611.5L393.6 608.4L394.7 607.1L395.8 602.2L396.9 605.6L398.0 605.3L399.1 606.2L400.2 604.7L401.3 603.7L402.4 602.2L403.5 601.9L404.6 602.3L405.7 597.0L406.8 597.0L407.9 594.3L409.0 598.8L410.1 597.2L411.2 595.1L412.3 590.2L413.4 591.8L414.5 589.9L415.6 589.5L416.7 587.8L417.8 588.4L418.9 585.4L420.0 587.2L421.1 584.9L422.2 582.8L423.3 582.4L424.4 580.8L425.5 583.1L426.6 579.7L427.7 580.4L428.8 577.9L429.9 574.2L431.0 579.9L432.1 573.9L433.2 577.9L434.3 576.5L435.4 570.1L436.5 571.4L437.6 572.0L438.7 570.5L439.8 568.8L440.9 573.8L442.0 570.5L443.1 571.8L444.2 568.9L445.3 570.6L446.4 567.2L447.5 569.0L448.6 570.6L449.7 568.9L450.8 567.4L451.9 565.6L453.0 569.2L454.1 569.8L455.2 568.3L456.3 567.1L457.4 570.9L458.5 576.2L459.6 569.1L460.7 571.1L461.8 571.6L462.9 564.6L464.0 571.9L465.1 570.5L466.2 576.3L467.3 573.1L468.4 572.6L469.5 574.8L470.6 576.5L471.7 575.9L472.8 578.0L473.9 576.3L475.0 579.8L476.1 583.0L477.2 586.6L478.3 585.4L479.4 585.8L480.5 588.9L481.6 589.9L482.7 592.5L483.8 593.0L484.9 592.4L486.0 594.7L487.1 596.2L488.2 598.2L489.3 599.8L490.4 599.9L491.5 599.6L492.6 603.6L493.7 603.2L494.8 608.1L495.9 609.6L497.0 608.8L498.1 613.8L499.2 615.6L500.3 616.1L501.4 619.9L502.5 621.7L503.6 619.0L504.7 623.8L505.8 624.6L506.9 626.2L508.0 628.6L509.1 628.1L510.2 630.0L511.3 631.5L512.4 633.2L513.5 635.8L514.6 635.6L515.7 637.7L516.8 641.3L517.9 642.0L519.0 644.0L520.1 642.3L521.2 645.1L522.3 646.7L523.4 648.8L524.5 649.3L525.6 652.5L526.7 652.4L527.8 653.7L528.9 654.8L530.0 656.9L531.1 656.4L532.2 659.6L533.3 659.8L534.4 660.4L535.5 661.3L536.6 662.9L537.7 664.4L538.8 665.2L539.9 665.4L541.0 666.8L542.1 666.6L543.2 668.9L544.3 668.0L545.4 666.0L546.5 671.1L547.6 670.1L548.7 669.0L549.8 670.8L550.9 670.5L552.0 674.8L553.1 673.2L554.2 670.9L555.3 674.0L556.4 673.2L557.5 676.5L558.6 673.0L559.7 671.7L560.8 674.9L561.9 674.6L563.0 674.7L564.1 672.6L565.2 676.1L566.3 677.9L567.4 673.4L568.5 677.6L569.6 675.5L570.7 679.4L571.8 677.1L572.9 676.5L574.0 678.3L575.1 677.7L576.2 676.4L577.3 678.3L578.4 676.8L579.5 675.2L580.6 680.3L581.7 677.3L582.8 677.0L583.9 678.3L585.0 675.9L586.1 676.2L587.2 677.3L588.3 677.3L589.4 678.1L590.5 679.5L591.6 677.5L592.7 678.8L593.8 678.9L594.9 676.8L596.0 678.5L597.1 677.0L598.2 679.7L599.3 678.9L600.4 678.4L601.5 676.7L602.6 678.6L603.7 677.5L604.8 679.4L605.9 678.4L607.0 677.5L608.1 679.8L609.2 679.6L610.3 677.9L611.4 680.2L612.5 678.3L613.6 678.2L614.7 678.7L615.8 677.5L616.9 677.9L618.0 678.1L619.1 680.2L620.2 680.1L621.3 677.7L622.4 680.0L623.5 677.7L624.6 678.1L625.7 678.7L626.8 677.8L627.9 680.4L629.0 677.5L630.1 675.5L631.2 678.7L632.3 676.3L633.4 676.3L634.5 672.7L635.6 677.8L636.7 677.4L637.8 677.3L638.9 677.4L640.0 678.2L641.1 675.9L642.2 677.0L643.3 674.7L644.4 675.1L645.5 676.8L646.6 675.9L647.7 673.5L648.8 675.6L649.9 674.8L651.0 673.8L652.1 675.4L653.2 674.1L654.3 672.5L655.4 673.0L656.5 676.6L657.6 672.3L658.7 674.4L659.8 674.8L660.9 674.7L662.0 672.2L663.1 673.2L664.2 673.7L665.3 674.5L666.4 672.5L667.5 671.7L668.6 674.4L669.7 674.4L670.8 673.4L671.9 672.0L673.0 673.2L674.1 672.7L675.2 673.5L676.3 670.7L677.4 672.3L678.5 671.9L679.6 670.5L680.7 672.1L681.8 671.8L682.9 671.1L684.0 672.0L685.1 669.6L686.2 671.2L687.3 671.7L688.4 671.4L689.5 672.3L690.6 669.3L691.7 668.7L692.8 670.9L693.9 671.0L695.0 673.1L696.1 671.0L697.2 668.9L698.3 671.0L699.4 668.7L700.5 667.8L701.6 673.0L702.7 669.9L703.8 670.3L704.9 670.0L706.0 671.5L707.1 669.4L708.2 670.5L709.3 667.4L710.4 666.8L711.5 670.4L712.6 670.3L713.7 668.9L714.8 668.4L715.9 668.2L717.0 667.0L718.1 669.8L719.2 668.5L720.3 668.2L721.4 667.9L722.5 668.7L723.6 667.8L724.7 668.0L725.8 665.4L726.9 667.5L728.0 669.5L729.1 665.9L730.2 666.3L731.3 667.6L732.4 667.6L733.5 667.1L734.6 664.1L735.7 666.8L736.8 664.6L737.9 665.0L739.0 666.7L740.1 665.6L741.2 666.9L742.3 669.9L743.4 666.8L744.5 666.7L745.6 664.5L746.7 664.8L747.8 664.2L748.9 664.8L750.0 664.1L751.1 664.6L752.2 665.1L753.3 664.0L754.4 663.4L755.5 663.4L756.6 665.8L757.7 665.2L758.8 666.4L759.9 666.4L761.0 664.5L762.1 665.8L763.2 663.0L764.3 667.8L765.4 666.3L766.5 664.4L767.6 663.1L768.7 665.1L769.8 662.1L770.9 663.5L772.0 665.4L773.1 664.5L774.2 663.7L775.3 665.5L776.4 662.9L777.5 664.5L778.6 663.5L779.7 663.0L780.8 664.6L781.9 662.7L783.0 666.4L784.1 663.1L785.2 666.4L786.3 662.3L787.4 664.5L788.5 662.1L789.6 661.9L790.7 663.8L791.8 664.5L792.9 662.0L794.0 665.2L795.1 662.6L796.2 663.9L797.3 664.3L798.4 664.6L799.5 661.5L800.6 666.0L801.7 664.7L802.8 663.5L803.9 662.7L805.0 661.9L806.1 662.4L807.2 664.9L808.3 663.8L809.4 662.8L810.5 663.7L811.6 666.5L812.7 664.0L813.8 663.8L814.9 666.3L816.0 665.2L817.1 664.7L818.2 663.9L819.3 662.8L820.4 663.3L821.5 664.2L822.6 664.6L823.7 665.4L824.8 665.7L825.9 665.4L827.0 665.4L828.1 663.9L829.2 662.4L830.3 664.6L831.4 664.1L832.5 664.5L833.6 665.1L834.7 663.9L835.8 664.1L836.9 665.5L838.0 665.8L839.1 664.9L840.2 666.5L841.3 665.6L842.4 664.7L843.5 666.2L844.6 668.7L845.7 665.4L846.8 668.0L847.9 668.3L849.0 668.6L850.1 665.7L851.2 669.5L852.3 667.1L853.4 666.8L854.5 666.9L855.6 668.1L856.7 667.5L857.8 667.3L858.9 669.3L860.0 666.8L861.1 666.5L862.2 669.0L863.3 669.0L864.4 669.6L865.5 666.9L866.6 669.8L867.7 669.2L868.8 671.0L869.9 667.1L871.0 669.2L872.1 668.6L873.2 667.0L874.3 668.3L875.4 670.8L876.5 668.8L877.6 668.6L878.7 670.8L879.8 671.1L880.9 671.2L882.0 669.0L883.1 670.0L884.2 671.6L885.3 669.5L886.4 669.5L887.5 671.6L888.6 672.7L889.7 669.3L890.8 667.5L891.9 669.1L893.0 669.8L894.1 671.0L895.2 672.1L896.3 671.3L897.4 670.6L898.5 671.9L899.6 670.5L900.7 671.8L901.8 671.2L902.9 675.6L904.0 673.3L905.1 671.2L906.2 671.1L907.3 671.9L908.4 670.5L909.5 671.7L910.6 671.8L911.7 674.0L912.8 672.4L913.9 672.0L915.0 671.4L916.1 671.7L917.2 673.2L918.3 673.1L919.4 675.0L920.5 672.8L921.6 675.1L922.7 674.1L923.8 673.9L924.9 671.4L926.0 672.4L927.1 675.1L928.2 676.1L929.3 674.6L930.4 675.4L931.5 674.0L932.6 674.1L933.7 673.8L934.8 676.0L935.9 675.3L937.0 674.7L938.1 674.6L939.2 675.9L940.3 675.7L941.4 674.2L942.5 677.6L943.6 675.8L944.7 675.6L945.8 677.6L946.9 677.1L948.0 675.8L949.1 676.7L950.2 674.7L951.3 675.3L952.4 673.3L953.5 677.9L954.6 674.0L955.7 677.4L956.8 675.5L957.9 675.4L959.0 676.5L960.1 677.2L961.2 677.8L962.3 679.4L963.4 677.6L964.5 678.4L965.6 676.5L966.7 678.3L967.8 677.7L968.9 677.0L970.0 677.6L971.1 677.7L972.2 678.1L973.3 678.5L974.4 677.4L975.5 677.2L976.6 679.2L977.7 676.1L978.8 677.6L979.9 680.5L981.0 675.1L982.1 677.8L983.2 679.6L984.3 676.7L985.4 682.3L986.5 675.7L987.6 681.0L988.7 681.2L989.8 680.5L990.9 679.1L992.0 679.9L993.1 678.4L994.2 680.7L995.3 678.3L996.4 679.5L997.5 681.2L998.6 678.5L999.7 679.6L1000.8 680.4L1001.9 678.5L1003.0 681.9L1004.1 680.9L1005.2 678.6L1006.3 680.5L1007.4 679.7L1008.5 679.9L1009.6 681.0L1010.7 680.0L1011.8 682.3L1012.9 680.2L1014.0 682.5L1015.1 681.3L1016.2 682.5L1017.3 680.8L1018.4 680.9L1019.5 680.2L1020.6 682.5L1021.7 683.1L1022.8 684.7L1023.9 683.7L1025.0 682.4L1026.1 681.9L1027.2 682.8L1028.3 682.3L1029.4 684.4L1030.5 683.8L1031.6 681.6L1032.7 681.8L1033.8 684.6L1034.9 683.3L1036.0 682.7L1037.1 684.6L1038.2 682.7L1039.3 682.9L1040.4 682.7L1041.5 680.8L1042.6 684.6" stroke="#3c3a96" stroke-width="1.9" fill="none" stroke-linejoin="round"/>
<path d="M214.9 205.0h6.4v5.4h-6.4zM332.4 264.4h6.4v5.4h-6.4zM393.3 207.1h6.4v5.4h-6.4zM447.2 232.1h6.4v5.4h-6.4zM511.9 90.5h6.4v5.4h-6.4zM566.3 292.7h6.4v5.4h-6.4zM601.0 247.8h6.4v5.4h-6.4zM679.1 286.2h6.4v5.4h-6.4zM742.2 289.4h6.4v5.4h-6.4zM757.3 248.7h6.4v5.4h-6.4zM777.1 298.1h6.4v5.4h-6.4zM822.2 288.3h6.4v5.4h-6.4zM844.9 296.6h6.4v5.4h-6.4zM858.9 296.9h6.4v5.4h-6.4zM873.7 293.1h6.4v5.4h-6.4zM891.4 297.8h6.4v5.4h-6.4zM922.2 290.1h6.4v5.4h-6.4zM948.3 298.4h6.4v5.4h-6.4zM968.8 278.3h6.4v5.4h-6.4zM1017.0 292.7h6.4v5.4h-6.4zM214.4 433.2h6.4v5.4h-6.4zM330.9 486.9h6.4v5.4h-6.4zM394.2 435.8h6.4v5.4h-6.4zM448.8 452.3h6.4v5.4h-6.4zM511.8 325.8h6.4v5.4h-6.4zM567.5 512.8h6.4v5.4h-6.4zM602.2 473.5h6.4v5.4h-6.4zM680.2 499.6h6.4v5.4h-6.4zM742.7 511.6h6.4v5.4h-6.4zM759.0 467.0h6.4v5.4h-6.4zM778.2 515.3h6.4v5.4h-6.4zM823.2 498.5h6.4v5.4h-6.4zM845.0 513.8h6.4v5.4h-6.4zM860.2 517.0h6.4v5.4h-6.4zM875.5 497.0h6.4v5.4h-6.4zM890.7 514.9h6.4v5.4h-6.4zM921.8 501.4h6.4v5.4h-6.4zM951.3 516.6h6.4v5.4h-6.4zM971.3 499.6h6.4v5.4h-6.4zM1017.7 511.6h6.4v5.4h-6.4z" fill="#111"/>
<text transform="matrix(0,-0.8912,1,0,228.24,200.57)" font-size="26.38" textLength="39.57" fill="#000">100</text>
<text transform="matrix(0,-0.8222,1,0,346.14,242.51)" font-size="26.38" textLength="39.57" fill="#000">110</text>
<text transform="matrix(0,-0.7598,1,0,411,191)" font-size="26.96" textLength="40.44" fill="#000">111</text>
<text transform="matrix(0,-0.7324,1,0,467,214.64)" font-size="26.96" textLength="40.44" fill="#000">111</text>
<text transform="matrix(0,-0.9411,1,0,546.64,126.59)" font-size="26.38" textLength="39.57" fill="#000">200</text>
<text transform="matrix(0,-0.8978,1,0,582.14,274.1)" font-size="26.38" textLength="39.57" fill="#000">021</text>
<text transform="matrix(0,-0.8061,1,0,617.7,232.7)" font-size="26.88" textLength="40.33" fill="#000">121</text>
<text transform="matrix(0,-0.8127,1,0,697.1,257.16)" font-size="26.88" textLength="40.33" fill="#000">211</text>
<text transform="matrix(0,-0.9271,1,0,755.64,272.33)" font-size="26.38" textLength="39.57" fill="#000">022</text>
<text transform="matrix(0,-0.9304,1,0,773.44,234.38)" font-size="26.38" textLength="39.57" fill="#000">220</text>
<text transform="matrix(0,-0.842,1,0,795.1,274.59)" font-size="26.88" textLength="40.33" fill="#000">221</text>
<text transform="matrix(0,-0.9445,1,0,838.19,263.09)" font-size="26.38" textLength="39.57" fill="#000">202</text>
<text transform="matrix(0,-0.834,1,0,857.74,275.84)" font-size="26.38" textLength="39.57" fill="#000">013</text>
<text transform="matrix(0,-0.8332,1,0,879.04,282.33)" font-size="26.38" textLength="39.57" fill="#000">130</text>
<text transform="matrix(0,-0.7863,1,0,897.94,264.2)" font-size="26.49" textLength="39.74" fill="#000">311</text>
<text transform="matrix(0,-0.9108,1,0,914.8,286.78)" font-size="26.88" textLength="40.33" fill="#000">222</text>
<text transform="matrix(0,-0.7119,1,0,938.49,267.86)" font-size="26.49" textLength="39.74" fill="#000">131</text>
<text transform="matrix(0,-0.8364,1,0,962.19,286.67)" font-size="26.49" textLength="39.74" fill="#000">213</text>
<text transform="matrix(0,-0.7538,1,0,987.34,269.46)" font-size="26.49" textLength="39.74" fill="#000">311</text>
<text transform="matrix(0,-0.924,1,0,1032.4,282.29)" font-size="26.88" textLength="40.33" fill="#000">222</text>
<text transform="matrix(0,-0.8995,1,0,224.24,421.49)" font-size="26.38" textLength="39.57" fill="#000">100</text>
<text transform="matrix(0,-0.8415,1,0,347.04,465.45)" font-size="26.38" textLength="39.57" fill="#000">110</text>
<text transform="matrix(0,-0.7406,1,0,404.1,415.56)" font-size="26.96" textLength="40.44" fill="#000">111</text>
<text transform="matrix(0,-0.7406,1,0,459.5,435.36)" font-size="26.96" textLength="40.44" fill="#000">111</text>
<text transform="matrix(0,-0.9117,1,0,540.14,367.96)" font-size="26.38" textLength="39.57" fill="#000">200</text>
<text transform="matrix(0,-0.8978,1,0,578.54,501.3)" font-size="26.38" textLength="39.57" fill="#000">021</text>
<text transform="matrix(0,-0.7786,1,0,618.7,462.84)" font-size="26.88" textLength="40.33" fill="#000">121</text>
<text transform="matrix(0,-0.7807,1,0,693.8,482.52)" font-size="26.88" textLength="40.33" fill="#000">211</text>
<text transform="matrix(0,-0.9405,1,0,751.24,497.84)" font-size="26.38" textLength="39.57" fill="#000">022</text>
<text transform="matrix(0,-0.9438,1,0,773.44,453.39)" font-size="26.38" textLength="39.57" fill="#000">220</text>
<text transform="matrix(0,-0.9006,1,0,791.8,500.16)" font-size="26.88" textLength="40.33" fill="#000">221</text>
<text transform="matrix(0,-0.9309,1,0,833.94,483.78)" font-size="26.38" textLength="39.57" fill="#000">202</text>
<text transform="matrix(0,-0.8526,1,0,853.64,501.46)" font-size="26.38" textLength="39.57" fill="#000">013</text>
<text transform="matrix(0,-0.8719,1,0,873.84,505.42)" font-size="26.38" textLength="39.57" fill="#000">130</text>
<text transform="matrix(0,-0.7809,1,0,890.64,479.39)" font-size="26.49" textLength="39.74" fill="#000">311</text>
<text transform="matrix(0,-0.9267,1,0,909.4,509.99)" font-size="26.88" textLength="40.33" fill="#000">222</text>
<text transform="matrix(0,-0.7621,1,0,932.44,492.17)" font-size="26.49" textLength="39.74" fill="#000">131</text>
<text transform="matrix(0,-0.8711,1,0,957.04,507.71)" font-size="26.49" textLength="39.74" fill="#000">213</text>
<text transform="matrix(0,-0.7972,1,0,980.94,493.51)" font-size="26.49" textLength="39.74" fill="#000">311</text>
<text transform="matrix(0,-0.9134,1,0,1028,505.18)" font-size="26.88" textLength="40.33" fill="#000">222</text>
<path d="M915 86.5H954.7" stroke="#111" stroke-width="2.4"/>
<path d="M915 110.9H954.7" stroke="#d9553a" stroke-width="1.9"/>
<path d="M915 135.4H953" stroke="#4a3f94" stroke-width="2.1"/>
<rect x="929.6" y="153.6" width="7.5" height="5.8" fill="#111"/>
<text transform="matrix(0.9526,0,0,1,958.26,94)" font-size="25.5" textLength="84.58" fill="#000">1000 °C</text>
<text transform="matrix(0.9819,0,0,1,957.55,118.8)" font-size="25.5" textLength="71.83" fill="#000">700 °C</text>
<text transform="matrix(0.9653,0,0,1,958.72,144.5)" font-size="25.5" textLength="71.83" fill="#000">400 °C</text>
<text transform="matrix(1.0099,0,0,1,959.64,165.9)" font-size="26" textLength="52.71" fill="#000">H fO</text>
<text transform="matrix(0.9854,0,0,1,1012.02,173.9)" font-size="17.97" textLength="8.99" fill="#000" >2</text>
<path d="M1353.5 55.8V710.8M1353.5 699.2H1995.6" stroke="#151515" stroke-width="2.6" fill="none"/>
<path d="M1353.5 663.5H1359.6M1353.5 592.1H1359.6M1353.5 520.7H1359.6M1353.5 449.3H1359.6M1353.5 377.9H1359.6M1353.5 306.5H1359.6M1353.5 235.1H1359.6M1353.5 163.7H1359.6M1353.5 92.3H1359.6M1425 699.2V710.8M1496.4 699.2V710.8M1567.8 699.2V710.8M1639.2 699.2V710.8M1710.6 699.2V710.8M1782 699.2V710.8M1853.4 699.2V710.8M1924.8 699.2V710.8M1996.2 699.2V710.8" stroke="#151515" stroke-width="2.5" fill="none"/>
<text transform="matrix(0.857,0,0,1,1325.5,713.77)" font-size="44.46" textLength="22.23" fill="#000" >0</text>
<text transform="matrix(0.8408,0,0,1,1326.15,642.8)" font-size="45.31" textLength="22.65" fill="#000" >2</text>
<text transform="matrix(0.8359,0,0,1,1324.65,571.4)" font-size="45.58" textLength="22.79" fill="#000" >4</text>
<text transform="matrix(0.8532,0,0,1,1325.19,499.56)" font-size="44.65" textLength="22.33" fill="#000" >6</text>
<text transform="matrix(0.857,0,0,1,1325.5,428.17)" font-size="44.46" textLength="22.23" fill="#000" >8</text>
<text transform="matrix(0.857,0,0,1,1306.45,356.77)" font-size="44.46" textLength="44.46" fill="#000" >10</text>
<text transform="matrix(0.8408,0,0,1,1307.1,285.8)" font-size="45.31" textLength="45.31" fill="#000" >12</text>
<text transform="matrix(0.8384,0,0,1,1305.6,214.4)" font-size="45.44" textLength="45.44" fill="#000" >14</text>
<text transform="matrix(0.8532,0,0,1,1306.14,142.56)" font-size="44.65" textLength="44.65" fill="#000" >16</text>
<text transform="matrix(0.857,0,0,1,1306.45,71.17)" font-size="44.46" textLength="44.46" fill="#000" >18</text>
<text transform="matrix(0.931,0,0,1,1329.67,756.84)" font-size="37.34" textLength="56.02" fill="#000" >200</text>
<text transform="matrix(0.8957,0,0,1,1402.1,756.84)" font-size="37.34" textLength="56.02" fill="#000" >300</text>
<text transform="matrix(0.8856,0,0,1,1472.95,756.84)" font-size="37.34" textLength="56.02" fill="#000" >400</text>
<text transform="matrix(0.8984,0,0,1,1543.35,756.84)" font-size="37.34" textLength="56.02" fill="#000" >500</text>
<text transform="matrix(0.887,0,0,1,1614.98,756.84)" font-size="37.34" textLength="56.02" fill="#000" >600</text>
<text transform="matrix(0.9265,0,0,1,1683.72,756.84)" font-size="37.34" textLength="56.02" fill="#000" >700</text>
<text transform="matrix(0.9065,0,0,1,1756.21,756.84)" font-size="37.34" textLength="56.02" fill="#000" >800</text>
<text transform="matrix(0.9178,0,0,1,1826.1,756.84)" font-size="37.34" textLength="56.02" fill="#000" >900</text>
<text transform="matrix(0.8659,0,0,1,1890.66,756.84)" font-size="37.34" textLength="74.69" fill="#000" >1000</text>
<text transform="matrix(0.8102,0,0,1,1963.74,756.84)" font-size="37.34" textLength="74.69" fill="#000" >1100</text>
<text transform="matrix(1.0478,0,0,1,1670.72,40.29)" font-size="40.92" textLength="48.07" fill="#000" >(б)</text>
<text transform="matrix(1.0125,0,0,1,1403.3,800.9)" font-size="43.6" textLength="591.67" fill="#000">Температура формирования, °C</text>
<text transform="matrix(0,-1.0251,1,0,1249,741.73)" font-size="43.5" textLength="680.28" fill="#000">Средний размер нанокристаллов, нм</text>
<path d="M1352.4 645.6L1389.3 645.1L1425 642.5L1460.7 630.7L1496.3 603L1532.3 538.4L1541.5 512L1553.1 478.9L1564.7 445.7L1574 412.6L1583 379.4L1592.3 346.3L1600.5 313.1L1609.5 280L1621.6 238.6L1639.2 190.6L1674.9 138.8L1710.6 128L1746 127.5L1920 127.5" stroke="#000" stroke-width="4.4" fill="none" stroke-linejoin="round"/>
<circle cx="1417.4" cy="635.1" r="9.6" fill="#000" stroke="#fff" stroke-width="1.2"/>
<circle cx="1496.3" cy="627.9" r="9.6" fill="#000" stroke="#fff" stroke-width="1.2"/>
<circle cx="1638.8" cy="172.2" r="9.6" fill="#000" stroke="#fff" stroke-width="1.2"/>
<circle cx="1709.8" cy="151.5" r="9.6" fill="#000" stroke="#fff" stroke-width="1.2"/>
<circle cx="1781.8" cy="132.4" r="9.6" fill="#000" stroke="#fff" stroke-width="1.2"/>
<circle cx="1853.1" cy="127.9" r="9.6" fill="#000" stroke="#fff" stroke-width="1.2"/>
<circle cx="1924.3" cy="120.8" r="9.6" fill="#000" stroke="#fff" stroke-width="1.2"/>
<path d="M1671.4 262.5L1653.2 193.5M1643.2 208.5L1653 193L1669.8 201.8" stroke="#e5d234" stroke-width="4" fill="none" stroke-linecap="round" stroke-linejoin="round"/>
<defs>
<clipPath id="ic"><rect x="1641" y="272" width="399.29999999999995" height="263.4"/></clipPath>
<clipPath id="bandc"><path d="M1630 262L1826 262L1895 336L1948 398L2050 500L2050 545L1816 545L1641 337L1630 330Z"/></clipPath>
<linearGradient id="bandg" gradientUnits="userSpaceOnUse" x1="1753.3" y1="490.7" x2="1926.7" y2="339.8"><stop offset="0.000" stop-color="#b2b2b2"/><stop offset="0.039" stop-color="#acacac"/><stop offset="0.065" stop-color="#7a7b7d"/><stop offset="0.091" stop-color="#2a2c2f"/><stop offset="0.130" stop-color="#1a1c1f"/><stop offset="0.261" stop-color="#15171a"/><stop offset="0.435" stop-color="#1e2023"/><stop offset="0.609" stop-color="#2a2c2f"/><stop offset="0.748" stop-color="#37393c"/><stop offset="0.826" stop-color="#4c4e51"/><stop offset="0.870" stop-color="#6e7072"/><stop offset="0.913" stop-color="#959595"/><stop offset="0.965" stop-color="#a2a2a2"/><stop offset="1.000" stop-color="#a0a0a0"/></linearGradient>
<radialGradient id="rg1" gradientUnits="userSpaceOnUse" cx="1690" cy="285" r="130"><stop offset="0" stop-color="#3a3d40" stop-opacity="0.9"/><stop offset="0.55" stop-color="#34373a" stop-opacity="0.55"/><stop offset="1" stop-color="#34373a" stop-opacity="0"/></radialGradient>
<radialGradient id="rg2" gradientUnits="userSpaceOnUse" cx="1850" cy="505" r="120"><stop offset="0" stop-color="#000" stop-opacity="0.65"/><stop offset="1" stop-color="#000" stop-opacity="0"/></radialGradient>
<radialGradient id="rg3" gradientUnits="userSpaceOnUse" cx="1820" cy="300" r="45"><stop offset="0" stop-color="#5a5d60" stop-opacity="0.6"/><stop offset="1" stop-color="#5a5d60" stop-opacity="0"/></radialGradient>
<radialGradient id="rg4" gradientUnits="userSpaceOnUse" cx="1770" cy="345" r="60"><stop offset="0" stop-color="#000" stop-opacity="0.45"/><stop offset="1" stop-color="#000" stop-opacity="0"/></radialGradient>
<filter id="nz" x="0" y="0" width="100%" height="100%" color-interpolation-filters="sRGB"><feTurbulence type="fractalNoise" baseFrequency="0.85" numOctaves="1" seed="5"/><feColorMatrix type="matrix" values="1.2 0 0 0 -0.1  1.2 0 0 0 -0.1  1.2 0 0 0 -0.1  0 0 0 0 1"/></filter>
<filter id="gl" x="-200%" y="-200%" width="500%" height="500%"><feGaussianBlur stdDeviation="0.85"/></filter>
</defs>
<g clip-path="url(#ic)">
<rect x="1641" y="272" width="399.29999999999995" height="263.4" fill="url(#bandg)"/>
<g clip-path="url(#bandc)">
<rect x="1630" y="262" width="300" height="200" fill="url(#rg1)"/>
<rect x="1700" y="380" width="300" height="170" fill="url(#rg2)"/>
<rect x="1760" y="250" width="120" height="100" fill="url(#rg3)"/>
<rect x="1700" y="280" width="140" height="130" fill="url(#rg4)"/>
</g>
<rect x="1641" y="272" width="399.29999999999995" height="263.4" filter="url(#nz)" style="mix-blend-mode:overlay" opacity="0.45"/>
<rect x="1936.9" y="272" width="103.4" height="102.7" fill="#05060b"/>
<g fill="#fff" filter="url(#gl)">
<circle cx="1988.3" cy="325.3" r="2.0" opacity="1"/>
<circle cx="2001.6" cy="321" r="1.5" opacity="0.95"/>
<circle cx="1974.4" cy="329" r="1.5" opacity="0.9"/>
<circle cx="1967.8" cy="309.8" r="1.3" opacity="0.7"/>
<circle cx="1995.6" cy="302.2" r="1.2" opacity="0.65"/>
<circle cx="2008.2" cy="340.3" r="1.3" opacity="0.7"/>
<circle cx="1980.4" cy="348.2" r="1.3" opacity="0.55"/>
<circle cx="1960.2" cy="332.7" r="1.1" opacity="0.4"/>
<circle cx="2016.2" cy="317" r="1.1" opacity="0.4"/>
<circle cx="1990" cy="340" r="1.0" opacity="0.3"/>
<circle cx="1982" cy="305" r="1.0" opacity="0.35"/>
<circle cx="1986" cy="326" r="1.3" opacity="0.8"/>
</g>
<path d="M1962 313L2000 299M1970 334L2010 318M1978 350L2012 337" stroke="#fff" stroke-width="1" opacity="0.07"/>
<rect x="2024" y="368.3" width="14" height="1" fill="#ccc"/>
<rect x="2001.2" y="530" width="39.1" height="5.4" fill="#fff"/><rect x="2002" y="529.2" width="38" height="0.9" fill="#111"/>
<rect x="2017" y="532" width="8" height="1.6" fill="#888"/>
<rect x="1642" y="531.5" width="20" height="1.8" fill="#222" opacity="0.5"/><rect x="1665" y="531.5" width="12" height="1.8" fill="#222" opacity="0.5"/>
<rect x="1769.3" y="432" width="25" height="24.7" fill="none" stroke="#e5d234" stroke-width="1.5"/>
<path d="M1794.3 432L1929 376.5" stroke="#e5d234" stroke-width="1.4"/>
<path d="M1934.5 374.3L1925 374.8L1928 380.5Z" fill="#e5d234"/>
</g>
<rect x="1639" y="270.1" width="403.3" height="267.3" fill="none" stroke="#e5d234" stroke-width="4"/>
</svg></body></html>
